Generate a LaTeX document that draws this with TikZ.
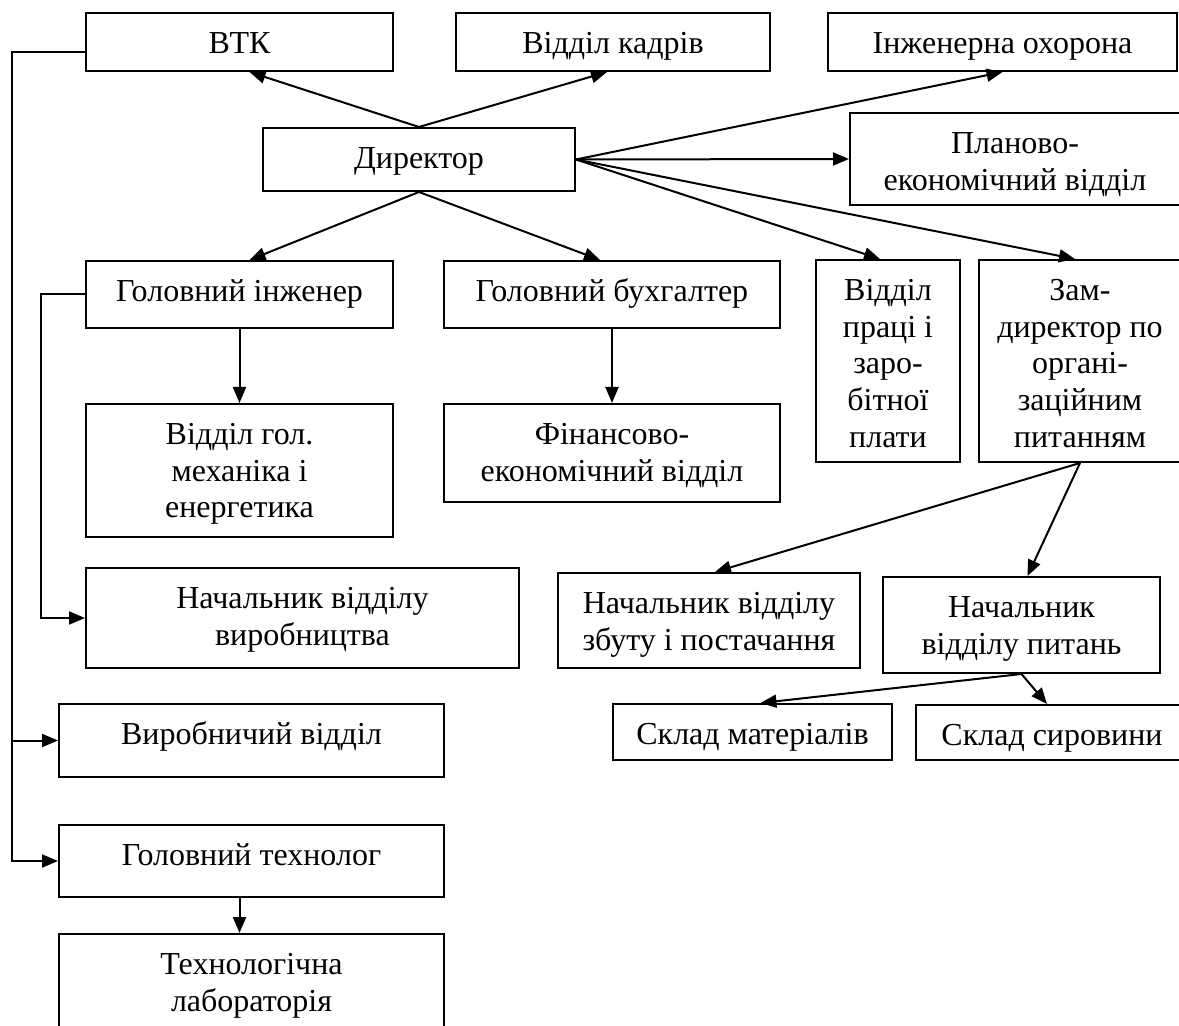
\documentclass[tikz,border=0pt]{standalone}
\usepackage{fontspec}
\setmainfont{Liberation Serif}
\usetikzlibrary{arrows.meta,positioning,calc}

\begin{document}
\begin{tikzpicture}[
  x=0.5pt, y=-0.5pt,
  box/.style={draw, line width=1pt, inner sep=0pt,
    label={[txt]north:\strut #1}},
  txt/.style={anchor=north, yshift=-7.6pt, inner sep=0pt, align=center,
    font=\fontsize{16}{18.4}\selectfont},
  wh/.style 2 args={minimum width=#1*0.5pt, minimum height=#2*0.5pt},
  arr/.style={-{Triangle[length=8pt, width=6.5pt]}, line width=1pt}
]
\clip (0,0) rectangle (1179,1026);

% Top row
\node[box={ВТК}, wh={307}{58}] (vtk) at (239.5,42) {};
\node[box={Відділ кадрів}, wh={314}{58}] (kadry) at (613,42) {};
\node[box={Інженерна охорона}, wh={349}{58}] (okhorona) at (1002.5,42) {};

% Director and planning
\node[box={Директор}, wh={312}{63}] (dyr) at (419,159.5) {};
\node[box={Планово-\\економічний відділ}, wh={330}{92}] (plan)
  at (1015,159) {};

% Second level
\node[box={Головний інженер}, wh={307}{67}] (inzh) at (239.5,294.5) {};
\node[box={Головний бухгалтер}, wh={336}{67}] (buh) at (612,294.5) {};
\node[box={Відділ\\праці і\\заро-\\бітної\\плати}, wh={144}{202}]
  (pratsi) at (888,361) {};
\node[box={Зам-\\директор по\\органі-\\заційним\\питанням},
  wh={202}{202}] (zam) at (1080,361) {};

% Third level
\node[box={Відділ гол.\\механіка і\\енергетика}, wh={307}{133}] (mekh)
  at (239.5,470.5) {};
\node[box={Фінансово-\\економічний відділ}, wh={336}{98}] (fin)
  at (612,453) {};
\node[box={Начальник відділу\\ виробництва}, wh={433}{100}] (vyrob)
  at (302.5,618) {};
\node[box={Начальник відділу\\збуту і постачання}, wh={302}{95}] (zbut)
  at (709,620.5) {};
\node[box={Начальник\\відділу питань}, wh={277}{96}] (pytan)
  at (1021.5,625) {};

% Stores
\node[box={Склад матеріалів}, wh={279}{56}] (mater) at (752.5,732) {};
\node[box={Склад сировини}, wh={272}{55}] (syrov) at (1052,732.5) {};

% Left column
\node[box={Виробничий відділ}, wh={385}{73}] (vviddil) at (251.5,740.5) {};
\node[box={Головний технолог}, wh={385}{72}] (tekhn) at (251.5,861) {};
\node[box={Технологічна\\лабораторія}, wh={385}{112}] (lab)
  at (251.5,990) {};

% Arrows from the director
\draw[arr] (dyr.north) -- ([xshift=5pt]vtk.south);
\draw[arr] (dyr.north) -- ([xshift=-3pt]kadry.south);
\draw[arr] (dyr.east) -- (okhorona.south);
\draw[arr] (dyr.east) -- (plan.west);
\draw[arr] (dyr.east) -- ([xshift=-4pt]pratsi.north);
\draw[arr] (dyr.east) -- ([xshift=-2.5pt]zam.north);
\draw[arr] (dyr.south) -- ([xshift=5pt]inzh.north);
\draw[arr] (dyr.south) -- ([xshift=-6pt]buh.north);

% Lower links
\draw[arr] (inzh.south) -- (mekh.north);
\draw[arr] (buh.south) -- (fin.north);
\draw[arr] (zam.south) -- ([xshift=3pt]zbut.north);
\draw[arr] (zam.south) -- ([xshift=3pt]pytan.north);
\draw[arr] (pytan.south) -- ([xshift=4pt]mater.north);
\draw[arr] (pytan.south) -- ([xshift=-2.5pt]syrov.north);
\draw[arr] ([xshift=-6pt]tekhn.south) -- ([xshift=-6pt]lab.north);

% Side lines
\coordinate (trunk) at (12,52);
\coordinate (inner) at (41,294.5);
\draw[arr] ([yshift=-5pt]vtk.west) -- (trunk) |- (tekhn.west);
\draw[arr] (trunk |- vviddil.west) -- (vviddil.west);
\draw[arr] (inzh.west) -- (inner) |- (vyrob.west);

\end{tikzpicture}
\end{document}
